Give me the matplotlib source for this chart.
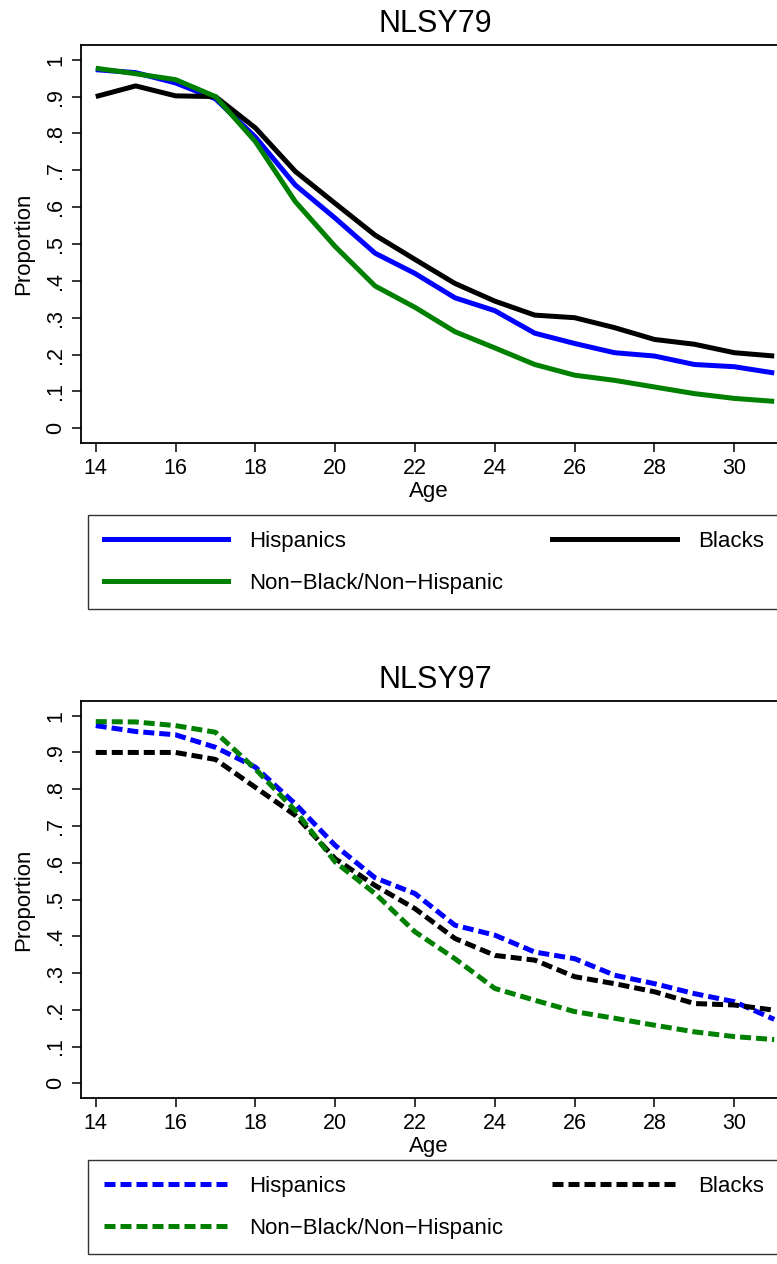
import numpy as np
import matplotlib
matplotlib.use("Agg")
import matplotlib.pyplot as plt
from matplotlib.lines import Line2D

plt.rcParams['font.family'] = ['Liberation Sans', 'DejaVu Sans']

# Age grid and proportions
ages = list(range(14, 32))

# NLSY79
hisp_79 = [0.973, 0.965, 0.937, 0.894, 0.790, 0.660, 0.570, 0.475, 0.420, 0.354,
           0.319, 0.258, 0.230, 0.205, 0.196, 0.173, 0.167, 0.150]
black_79 = [0.900, 0.929, 0.902, 0.900, 0.815, 0.697, 0.610, 0.524, 0.458, 0.393,
            0.345, 0.307, 0.300, 0.273, 0.241, 0.228, 0.205, 0.196]
white_79 = [0.977, 0.962, 0.946, 0.900, 0.778, 0.615, 0.493, 0.386, 0.328, 0.262,
            0.218, 0.173, 0.144, 0.130, 0.112, 0.094, 0.081, 0.073]

# NLSY97
hisp_97 = [0.973, 0.957, 0.948, 0.914, 0.860, 0.760, 0.647, 0.559, 0.516, 0.430,
           0.403, 0.357, 0.339, 0.294, 0.271, 0.244, 0.222, 0.174]
black_97 = [0.900, 0.900, 0.900, 0.881, 0.805, 0.729, 0.611, 0.538, 0.475, 0.394,
            0.348, 0.335, 0.290, 0.271, 0.249, 0.217, 0.213, 0.199]
white_97 = [0.984, 0.983, 0.973, 0.955, 0.855, 0.742, 0.602, 0.516, 0.412, 0.339,
            0.258, 0.226, 0.195, 0.177, 0.158, 0.140, 0.127, 0.119]

labels = ['Hispanics', 'Blacks', 'Non\u2212Black/Non\u2212Hispanic']
colors = ['#0000ff', '#000000', '#008000']
xticks = list(range(14, 31, 2))
yticks = [0, 0.1, 0.2, 0.3, 0.4, 0.5, 0.6, 0.7, 0.8, 0.9, 1.0]
ytick_labels = ['0', '.1', '.2', '.3', '.4', '.5', '.6', '.7', '.8', '.9', '1']

W, H = 777, 1264
fig = plt.figure(figsize=(W / 100, H / 100), dpi=100)

lw = 3.6
dash = (0, (2.2, 1.0))


def fy(px):
    return 1 - px / H


def panel(top, bottom, title, series, ls, leg_top):
    ax = fig.add_axes([81 / W, fy(bottom), 1 - 81 / W, fy(top) - fy(bottom)])
    for vals, c, lab in zip(series, colors, labels):
        ax.plot(ages, vals, color=c, lw=lw, linestyle=ls, label=lab,
                solid_capstyle='butt', dash_capstyle='butt')
    ax.set_xlim(13.63, 31.07)
    ax.set_ylim(-0.04, 1.04)
    ax.set_xticks(xticks)
    ax.set_yticks(yticks)
    ax.set_yticklabels(ytick_labels, rotation=90, va='center')
    ax.tick_params(direction='out', length=6.5, width=1.1, labelsize=15.5, pad=4)
    ax.spines['right'].set_visible(False)
    for s in ['left', 'bottom', 'top']:
        ax.spines[s].set_linewidth(1.3)
    ax.set_xlabel('Age', fontsize=16, labelpad=2)
    ax.set_ylabel('Proportion', fontsize=16, labelpad=8)
    ax.set_title(title, fontsize=22, pad=9, x=(435 - 81) / (W - 81))

    handles = [Line2D([], [], color=colors[0], lw=lw, linestyle=ls),
               Line2D([], [], color=colors[2], lw=lw, linestyle=ls),
               Line2D([], [], color=colors[1], lw=lw, linestyle=ls)]
    hl = [labels[0], labels[2], labels[1]]
    leg = fig.legend(handles, hl, loc='upper left',
                     bbox_to_anchor=(88 / W, fy(leg_top)), ncol=2,
                     fontsize=16, handlelength=5.6, handletextpad=0.95,
                     columnspacing=2.2, labelspacing=0.95, borderpad=0.7,
                     borderaxespad=0, fancybox=False, frameon=True)
    leg.get_frame().set_edgecolor('black')
    leg.get_frame().set_linewidth(1.0)
    return ax


panel(45, 443, 'NLSY79', [hisp_79, black_79, white_79], '-', 515)
panel(701, 1098, 'NLSY97', [hisp_97, black_97, white_97], dash, 1160)

fig.savefig('out.png', dpi=100)
